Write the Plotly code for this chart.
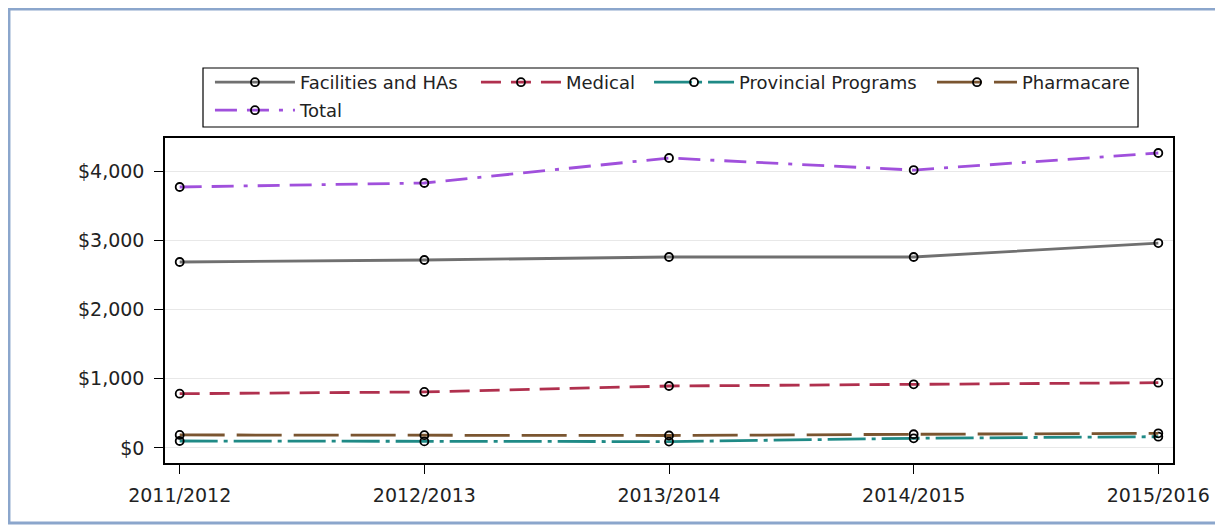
import plotly.graph_objects as go

# Data
years = ['2011/2012', '2012/2013', '2013/2014', '2014/2015', '2015/2016']
facilities = [2686, 2715, 2758, 2758, 2960]
medical = [784, 809, 895, 920, 943]
provincial = [101, 95, 92, 140, 163]
pharmacare = [188, 185, 180, 198, 212]
total = [3769, 3827, 4188, 4014, 4260]

y_ticks = [0, 1000, 2000, 3000, 4000]
y_tick_labels = ['$0', '$1,000', '$2,000', '$3,000', '$4,000']

# name, values, colour, dash
series = [
    ('Facilities and HAs', facilities, '#707070', 'solid'),
    ('Medical', medical, '#B0304E', '20px,10px'),
    ('Provincial Programs', provincial, '#1F8A86', '38px,6px,4px,6px'),
    ('Pharmacare', pharmacare, '#7A5530', '45px,12px'),
    ('Total', total, '#A050DC', '22px,10px,22px,10px,4px,10px'),
]

# one legend per entry so the spacing can follow the reference
legend_ids = ['legend', 'legend2', 'legend3', 'legend4', 'legend5']
legend_pos = [(0.0446, 1.2277), (0.3085, 1.2277), (0.4802, 1.2277),
              (0.7609, 1.2277), (0.0446, 1.1415)]

fig = go.Figure()
for (name, vals, color, dash), leg in zip(series, legend_ids):
    fig.add_trace(go.Scatter(
        x=years, y=vals, name=name, mode='lines+markers', legend=leg,
        line=dict(color=color, width=2.8, dash=dash),
        marker=dict(symbol='circle-open', size=8, color='black', line=dict(width=1.8)),
    ))

fam = 'DejaVu Sans, Arial, sans-serif'
leg_style = dict(
    orientation='h', xanchor='left', yanchor='top',
    borderwidth=0, bgcolor='rgba(0,0,0,0)', itemwidth=80,
    font=dict(family=fam, size=18, color='#222222'),
)
legends = {leg: dict(x=px, y=py, **leg_style) for leg, (px, py) in zip(legend_ids, legend_pos)}

# page body has an 8px margin, so the figure is 8px smaller than the window
fig.update_layout(
    width=1215, height=519,
    margin=dict(l=157, r=50, t=130, b=64),
    paper_bgcolor='white', plot_bgcolor='white',
    font=dict(family=fam, size=19, color='#222222'),
    showlegend=True,
    xaxis=dict(
        type='category', range=[-0.06, 4.06],
        showline=True, linecolor='black', linewidth=1.5, mirror=True,
        ticks='outside', ticklen=9, tickcolor='black', tickwidth=1.2,
        ticklabelstandoff=5,
        showgrid=False, zeroline=False,
    ),
    yaxis=dict(
        range=[-217, 4477], tickmode='array', tickvals=y_ticks, ticktext=y_tick_labels,
        showline=True, linecolor='black', linewidth=1.5, mirror=True,
        ticks='outside', ticklen=9, tickcolor='black', tickwidth=1.2,
        ticklabelstandoff=6,
        showgrid=True, gridcolor='#e8e8e8', gridwidth=1, zeroline=False,
    ),
    shapes=[
        # outer frame
        dict(type='rect', xref='paper', yref='paper',
             x0=-0.1548, x1=1.0437, y0=-0.1846, y1=1.397,
             line=dict(color='#8ba6cc', width=3), fillcolor='rgba(0,0,0,0)', layer='below'),
        # legend box
        dict(type='rect', xref='paper', yref='paper',
             x0=0.0377, x1=0.9653, y0=1.0338, y1=1.2154,
             line=dict(color='black', width=1.2), fillcolor='white', layer='below'),
    ],
    **legends,
)

fig.write_html("out.html")
